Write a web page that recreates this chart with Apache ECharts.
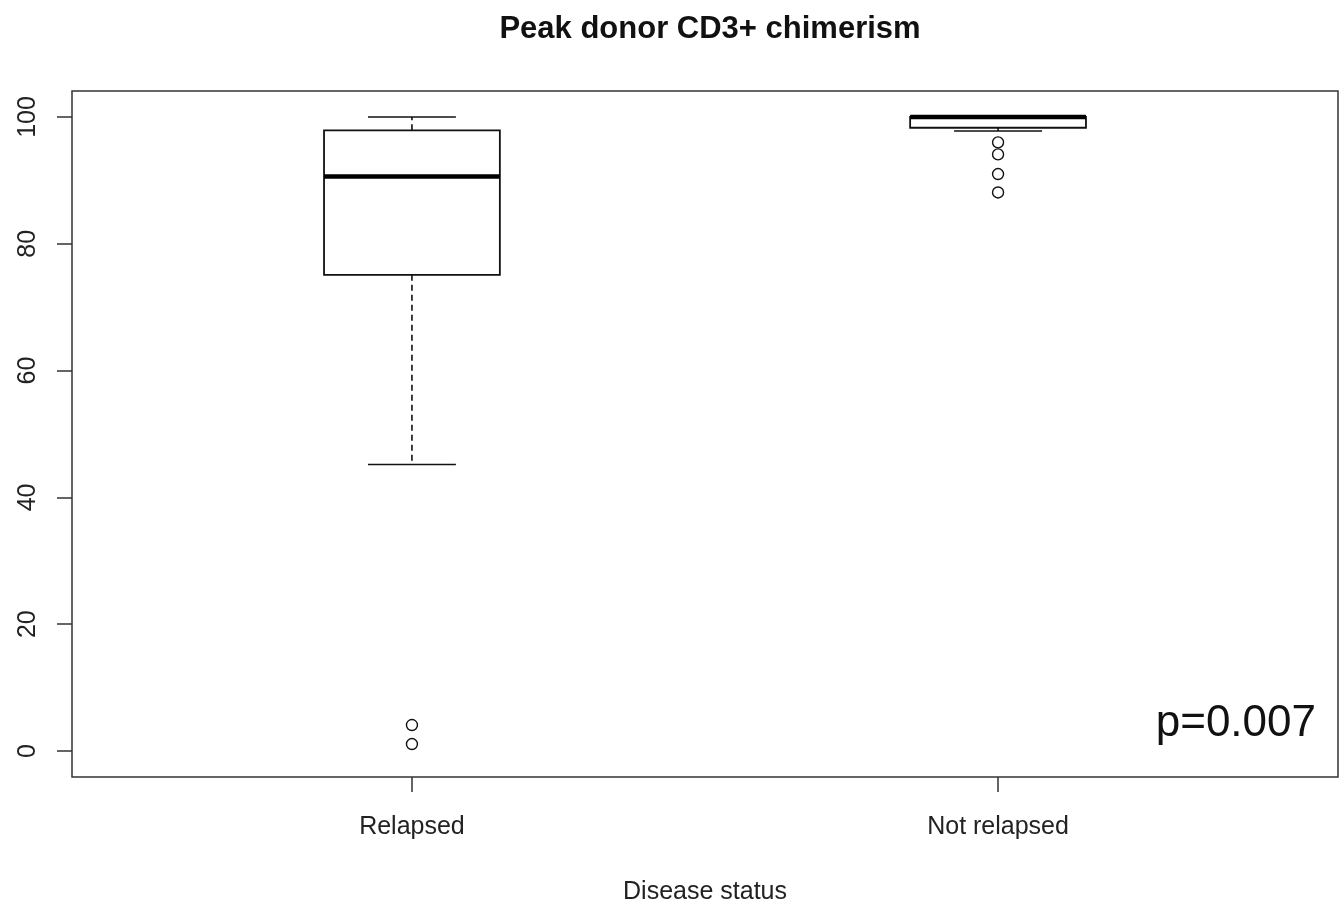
<!DOCTYPE html>
<html>
<head>
<meta charset="utf-8">
<script src="https://cdn.jsdelivr.net/npm/echarts@6/dist/echarts.min.js"></script>
<style>
html,body{margin:0;padding:0;background:#fff;}
#chart{width:1344px;height:908px;}
</style>
</head>
<body>
<div id="chart"></div>
<script>
// ---- data ----
const categories = ['Relapsed', 'Not relapsed'];
const whiskerLow = [45.2, 97.8];
const q1 = [75.1, 98.3];
const median = [90.6, 100];
const q3 = [97.9, 100];
const whiskerHigh = [100, 100];
const outlierGroup = [0, 0, 1, 1, 1, 1];
const outlierValue = [4.1, 1.1, 96.0, 94.1, 91.0, 88.1];
const yTicks = [0, 20, 40, 60, 80, 100];
const xTicks = [1, 2];
const pText = 'p=0.007';

const boxHalf = 0.15;
const capHalf = 0.075;

const boxData = categories.map((c, i) => [i + 1, whiskerLow[i], q1[i], median[i], q3[i], whiskerHigh[i]]);
const outData = outlierGroup.map((g, i) => [g + 1, outlierValue[i]]);

const chart = echarts.init(document.getElementById('chart'), null, {renderer: 'canvas'});

function renderBox(params, api) {
  const x = api.value(0);
  const lo = api.value(1), a = api.value(2), m = api.value(3), b = api.value(4), hi = api.value(5);
  const P = (xx, yy) => api.coord([xx, yy]);
  const stroke = {stroke: '#111', lineWidth: 1.6, fill: null};
  const dashed = {stroke: '#111', lineWidth: 1.6, lineDash: [6, 4]};
  const tl = P(x - boxHalf, b), br = P(x + boxHalf, a);
  const children = [];
  let p1 = P(x, b), p2 = P(x, hi);
  children.push({type: 'line', shape: {x1: p1[0], y1: p1[1], x2: p2[0], y2: p2[1]}, style: dashed});
  p1 = P(x, a); p2 = P(x, lo);
  children.push({type: 'line', shape: {x1: p1[0], y1: p1[1], x2: p2[0], y2: p2[1]}, style: dashed});
  p1 = P(x - capHalf, hi); p2 = P(x + capHalf, hi);
  children.push({type: 'line', shape: {x1: p1[0], y1: p1[1], x2: p2[0], y2: p2[1]}, style: stroke});
  p1 = P(x - capHalf, lo); p2 = P(x + capHalf, lo);
  children.push({type: 'line', shape: {x1: p1[0], y1: p1[1], x2: p2[0], y2: p2[1]}, style: stroke});
  children.push({type: 'rect', shape: {x: tl[0], y: tl[1], width: br[0] - tl[0], height: br[1] - tl[1]},
    style: {stroke: '#111', lineWidth: 1.8, fill: '#fff'}});
  p1 = P(x - boxHalf, m); p2 = P(x + boxHalf, m);
  children.push({type: 'line', shape: {x1: p1[0], y1: p1[1], x2: p2[0], y2: p2[1]}, style: {stroke: '#000', lineWidth: 4.5}});
  return {type: 'group', children: children};
}

const option = {
  animation: false,
  backgroundColor: '#fff',
  title: {
    text: 'Peak donor CD3+ chimerism',
    left: 705, top: 9, textAlign: 'center',
    textStyle: {fontFamily: 'Liberation Sans, Arial, sans-serif', fontSize: 31, fontWeight: 'bold', color: '#111'}
  },
  grid: {left: 72, right: 6, top: 91, bottom: 131, show: true, borderColor: '#333', borderWidth: 1.5,
    backgroundColor: 'transparent', outerBoundsMode: 'none', containLabel: false},
  xAxis: {
    type: 'value', min: 0.42, max: 2.58,
    axisLine: {show: false, onZero: false},
    splitLine: {show: false},
    axisTick: {show: true, length: 15, customValues: xTicks, lineStyle: {color: '#333', width: 1.5}},
    axisLabel: {
      customValues: xTicks, margin: 38,
      formatter: v => categories[Math.round(v) - 1] || '',
      fontFamily: 'Liberation Sans, Arial, sans-serif', fontSize: 25, color: '#222'
    },
    name: 'Disease status', nameLocation: 'middle', nameGap: 103,
    nameTextStyle: {fontFamily: 'Liberation Sans, Arial, sans-serif', fontSize: 25, color: '#222'}
  },
  yAxis: {
    type: 'value', min: -4.1, max: 104.1,
    axisLine: {show: false, onZero: false},
    splitLine: {show: false},
    axisTick: {show: true, length: 15, customValues: yTicks, lineStyle: {color: '#333', width: 1.5}},
    axisLabel: {
      customValues: yTicks, rotate: 90, margin: 31,
      fontFamily: 'Liberation Sans, Arial, sans-serif', fontSize: 25, color: '#222'
    }
  },
  series: [
    {
      type: 'custom', data: boxData, renderItem: renderBox,
      encode: {x: 0, y: [1, 2, 3, 4, 5]}, clip: false, z: 2
    },
    {
      type: 'scatter', data: outData, symbol: 'circle', symbolSize: 11, z: 5,
      itemStyle: {color: '#fff', borderColor: '#111', borderWidth: 1.4, opacity: 1}
    }
  ],
  graphic: [{
    type: 'text', right: 28, top: 702,
    style: {text: pText, fontFamily: 'Liberation Sans, Arial, sans-serif', fontSize: 44, fill: '#111'}
  }]
};
chart.setOption(option);
</script>
</body>
</html>
